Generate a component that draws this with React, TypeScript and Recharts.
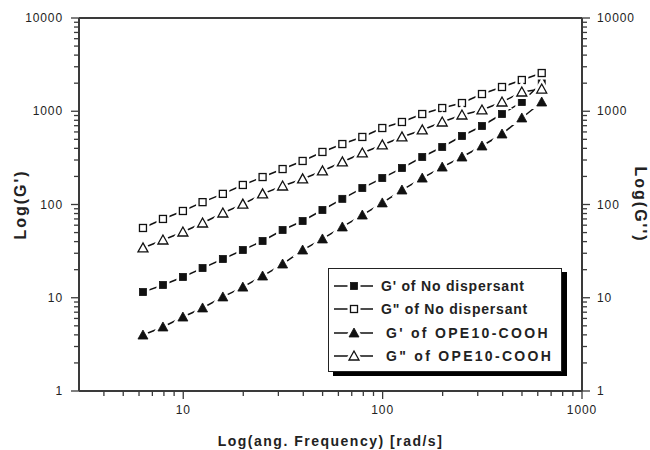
import { LineChart, Line, XAxis, YAxis, ReferenceLine, Legend } from "recharts"

// angular frequency [rad/s]
const freq = [6.28, 7.91, 9.96, 12.5, 15.8, 19.9, 25.0, 31.5, 39.7, 49.9, 62.8, 79.1, 99.6, 125, 158, 199, 250, 315, 397, 499, 628]
const gpNoDisp = [11.5, 13.7, 16.7, 20.8, 26.0, 32.5, 40.6, 53.3, 66.5, 87.3, 115, 150, 192, 246, 323, 414, 543, 695, 934, 1256, 2010]
const gppNoDisp = [56.0, 70.0, 85.2, 106, 130, 162, 197, 240, 293, 366, 445, 530, 661, 767, 934, 1083, 1225, 1530, 1820, 2163, 2570]
const gpOpe = [3.98, 4.86, 6.21, 7.77, 10.2, 13.0, 17.1, 23.0, 32.5, 42.7, 57.4, 77.1, 104, 143, 192, 252, 323, 424, 570, 847, 1256]
const gppOpe = [34.2, 41.6, 50.7, 63.3, 81.1, 101, 130, 158, 188, 229, 286, 357, 435, 530, 630, 767, 912, 1032, 1256, 1608, 1730]

const xTicks = [4, 5, 6, 7, 8, 9, 10, 20, 30, 40, 50, 60, 70, 80, 90, 100, 200, 300, 400, 500, 600, 700, 800, 900, 1000]
const xMajor = [10, 100, 1000]
const yTicks = [
  1, 2, 3, 4, 5, 6, 7, 8, 9, 10, 20, 30, 40, 50, 60, 70, 80, 90, 100,
  200, 300, 400, 500, 600, 700, 800, 900, 1000, 2000, 3000, 4000, 5000, 6000, 7000, 8000, 9000, 10000,
]
const yMajor = [1, 10, 100, 1000, 10000]

const data = freq.map((f, i) => ({
  f,
  gpNoDisp: gpNoDisp[i],
  gppNoDisp: gppNoDisp[i],
  gpOpe: gpOpe[i],
  gppOpe: gppOpe[i],
}))

const axisColor = "#3a3a3a"
const font = "'Liberation Sans', Arial, sans-serif"

type Kind = "sqFill" | "sqOpen" | "triFill" | "triOpen"

function marker(kind: Kind, cx: number, cy: number, halo = true) {
  const tri = `${cx},${cy - 5} ${cx - 5},${cy + 4} ${cx + 5},${cy + 4}`
  const shape = (fill: string, stroke: string, sw: number) =>
    kind === "sqFill" || kind === "sqOpen" ? (
      <rect x={cx - 3.5} y={cy - 3.5} width={7} height={7} fill={fill} stroke={stroke} strokeWidth={sw} />
    ) : (
      <polygon points={tri} fill={fill} stroke={stroke} strokeWidth={sw} strokeLinejoin="miter" />
    )
  const filled = kind === "sqFill" || kind === "triFill"
  return (
    <g>
      {halo && shape("#fff", "#fff", 6)}
      {filled ? shape("#111", "#111", 0.8) : shape("#fff", "#111", 1.3)}
    </g>
  )
}

const dotOf = (kind: Kind) => (p: any) => <g key={`${kind}-${p.index}`}>{marker(kind, p.cx, p.cy)}</g>

const tickText = { fontSize: 12, fontFamily: font, fill: "#222", letterSpacing: 0.9 }

function LeftTick({ x, y, payload }: any) {
  const major = yMajor.includes(payload.value)
  return (
    <g>
      <line x1={x} x2={x - (major ? 8 : 5)} y1={y} y2={y} stroke={axisColor} strokeWidth={1.3} />
      {major && (
        <text x={x - 16} y={y + 4} textAnchor="end" {...tickText}>
          {payload.value}
        </text>
      )}
    </g>
  )
}

function RightTick({ x, y, payload }: any) {
  const major = yMajor.includes(payload.value)
  return (
    <g>
      <line x1={x} x2={x + (major ? 8 : 5)} y1={y} y2={y} stroke={axisColor} strokeWidth={1.3} />
      {major && (
        <text x={x + 15} y={y + 4} textAnchor="start" {...tickText}>
          {payload.value}
        </text>
      )}
    </g>
  )
}

function BottomTick({ x, y, payload }: any) {
  const major = xMajor.includes(payload.value)
  return (
    <g>
      <line x1={x} x2={x} y1={y} y2={y + (major ? 8 : 5)} stroke={axisColor} strokeWidth={1.3} />
      {major && (
        <text x={x} y={y + 23} textAnchor="middle" {...tickText}>
          {payload.value}
        </text>
      )}
    </g>
  )
}

const legendRows: { kind: Kind; label: string; spaced: boolean }[] = [
  { kind: "sqFill", label: "G' of No dispersant", spaced: false },
  { kind: "sqOpen", label: "G\" of No dispersant", spaced: false },
  { kind: "triFill", label: "G' of OPE10-COOH", spaced: true },
  { kind: "triOpen", label: "G\" of OPE10-COOH", spaced: true },
]

function LegendBox() {
  return (
    <div
      style={{
        width: 234,
        height: 104,
        border: "1.5px solid #222",
        background: "#fff",
        boxShadow: "5px 4px 0 #000",
        fontFamily: font,
        fontWeight: "bold",
        fontSize: 14,
        color: "#222",
        paddingTop: 5,
        boxSizing: "border-box",
      }}
    >
      {legendRows.map((r) => (
        <div key={r.kind} style={{ display: "flex", alignItems: "center", height: 23.5, whiteSpace: "nowrap" }}>
          <svg width={48} height={16} style={{ marginLeft: 4 }}>
            <line x1={1} x2={40} y1={8} y2={8} stroke="#111" strokeWidth={1.5} />
            {marker(r.kind, 21, 8)}
          </svg>
          <span style={{ marginLeft: r.spaced ? 5 : 0, letterSpacing: r.spaced ? 2.3 : 0.8 }}>{r.label}</span>
        </div>
      ))}
    </div>
  )
}

const series: { key: string; kind: Kind }[] = [
  { key: "gpNoDisp", kind: "sqFill" },
  { key: "gppNoDisp", kind: "sqOpen" },
  { key: "gpOpe", kind: "triFill" },
  { key: "gppOpe", kind: "triOpen" },
]

const titleStyle = { fontFamily: font, fontWeight: "bold", fill: "#222" }

export default function App() {
  return (
    <div style={{ position: "absolute", left: 0, top: 0, width: 650, height: 450, background: "#fff" }}>
      <LineChart width={650} height={450} data={data} margin={{ top: 18, right: 0, bottom: 0, left: 0 }}>
        <XAxis
          dataKey="f"
          type="number"
          scale="log"
          domain={[3, 1000]}
          ticks={xTicks}
          interval={0}
          height={59}
          tickSize={0}
          tickMargin={0}
          tick={<BottomTick />}
          axisLine={{ stroke: axisColor, strokeWidth: 2 }}
          allowDataOverflow
          label={{
            value: "Log(ang. Frequency) [rad/s]",
            position: "insideBottom",
            offset: 4,
            style: { ...titleStyle, fontSize: 14, letterSpacing: 1.5 },
          }}
        />
        <YAxis
          yAxisId="left"
          type="number"
          scale="log"
          domain={[1, 10000]}
          ticks={yTicks}
          interval={0}
          width={79}
          tickSize={0}
          tickMargin={0}
          tick={<LeftTick />}
          axisLine={{ stroke: axisColor, strokeWidth: 2 }}
          allowDataOverflow
          label={{
            value: "Log(G')",
            angle: -90,
            position: "insideLeft",
            offset: 20,
            style: { ...titleStyle, textAnchor: "middle", fontSize: 16, letterSpacing: 2 },
          }}
        />
        <YAxis
          yAxisId="right"
          orientation="right"
          type="number"
          scale="log"
          domain={[1, 10000]}
          ticks={yTicks}
          interval={0}
          width={68}
          tickSize={0}
          tickMargin={0}
          tick={<RightTick />}
          axisLine={{ stroke: axisColor, strokeWidth: 2 }}
          allowDataOverflow
          label={{
            value: "Log(G'')",
            angle: 90,
            position: "insideRight",
            offset: 9,
            style: { ...titleStyle, textAnchor: "middle", fontSize: 16, letterSpacing: 2 },
          }}
        />
        <ReferenceLine yAxisId="left" y={10000} stroke={axisColor} strokeWidth={2} ifOverflow="visible" />
        {series.map((s) => (
          <Line
            key={s.key}
            yAxisId="left"
            dataKey={s.key}
            type="linear"
            stroke="#111"
            strokeWidth={1.5}
            dot={dotOf(s.kind)}
            activeDot={false}
            isAnimationActive={false}
          />
        ))}
        <Legend
          layout="vertical"
          align="center"
          verticalAlign="middle"
          content={() => <LegendBox />}
          wrapperStyle={{ position: "absolute", left: 328, top: 268, width: 242, height: 112 }}
        />
      </LineChart>
    </div>
  )
}
